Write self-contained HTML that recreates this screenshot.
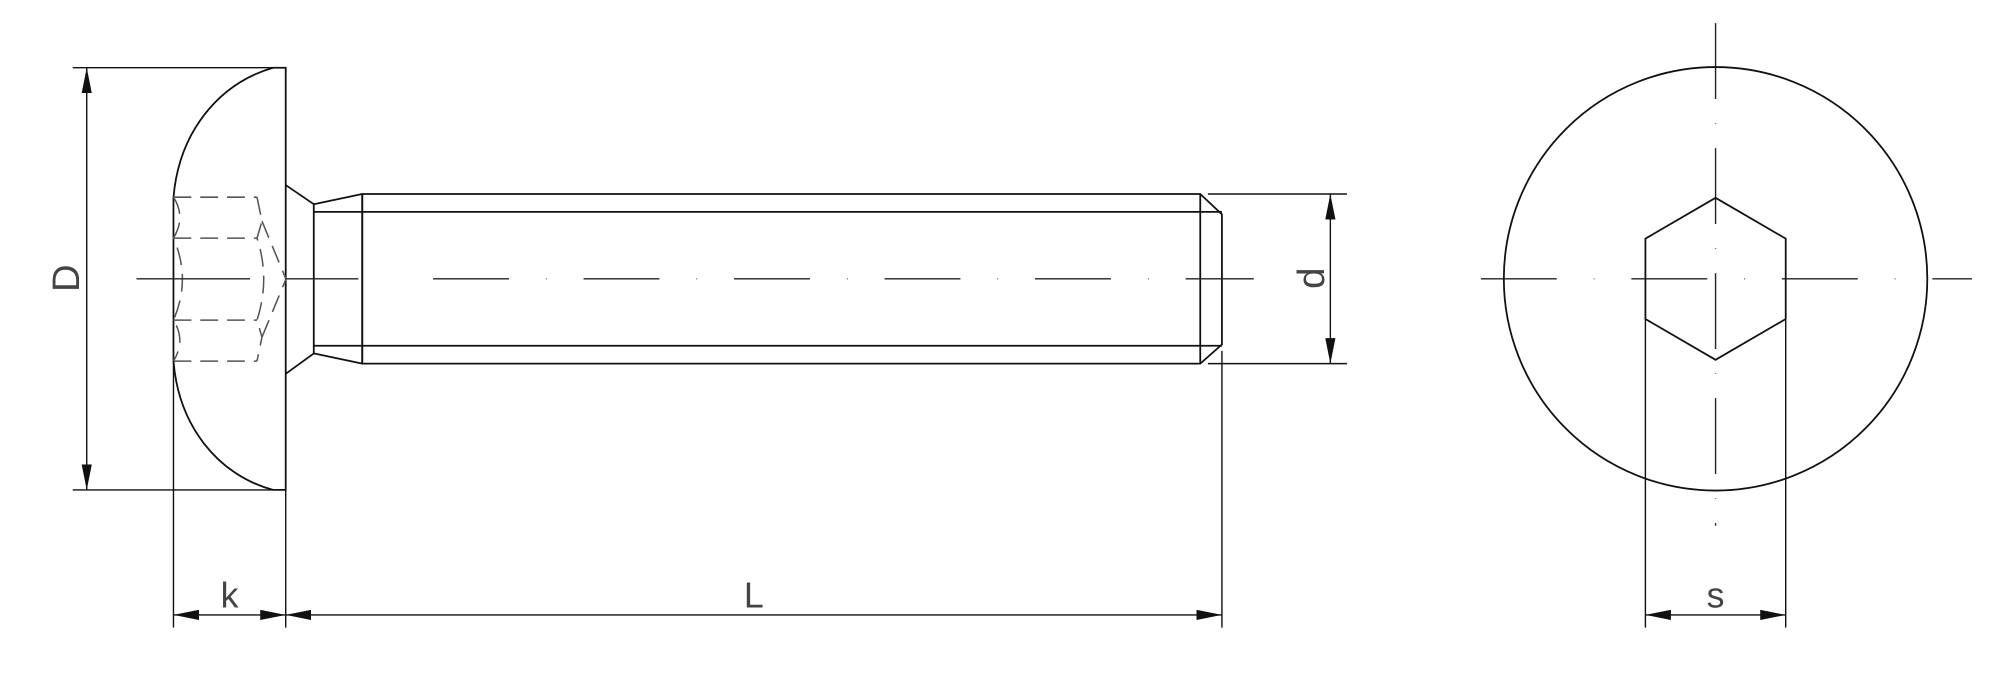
<!DOCTYPE html>
<html><head><meta charset="utf-8"><style>
html,body{margin:0;padding:0;background:#fff;}
svg{display:block;}
text{font-family:"Liberation Sans",sans-serif;fill:#444;}
</style></head><body>
<svg width="2000" height="689" viewBox="0 0 1568 540" xmlns="http://www.w3.org/2000/svg">
<defs>
<marker id="a" viewBox="0 0 20 8" refX="20" refY="4" markerWidth="20" markerHeight="8" markerUnits="userSpaceOnUse" orient="auto-start-reverse"><path d="M0,0 L20,4 L0,8 z" fill="#111"/></marker>
</defs>
<g stroke="#111" stroke-width="1.4" fill="none">
<!-- head -->
<path d="M224,53 L214,53 C170,66 140,105 136,155 L136,283 C140,333 170,372 214,384 L224,384 Z"/>
<!-- neck -->
<path d="M224,145 L246,160 L246,277 L224,293"/>
<path d="M246,160 L284,152 M246,166 L284,166 M246,277 L284,285 M246,271 L284,271"/>
<!-- shank -->
<path d="M284,152 L941,152 L958,168 L958,270 L941,285 L284,285 Z"/>
<path d="M284,152 L284,285 M941,152 L941,285 M284,166 L958,166 M284,271 L958,271"/>
</g>
<!-- hidden hex socket -->
<g stroke="#555" stroke-width="1.2" fill="none" stroke-dasharray="14,7">
<path d="M136,154.5 L201.5,154.5 M136,186.6 L201.5,186.6 M136,250.9 L201.5,250.9 M136,283 L201.5,283"/>
<path d="M201.5,154.5 L205.4,173.3 L201.5,186.6 Q212,218.7 201.5,250.9 L205.4,264.2 L201.5,283"/>
<path d="M205.4,173.3 L224.2,218.7 L205.4,264.2"/>
<path d="M136,154.5 Q146,170 136,186.6 Q150,218.7 136,250.9 Q146,267 136,283"/>
</g>
<!-- center lines -->
<g stroke="#222" stroke-width="1.1" fill="none">
<path d="M107,218.5 L196,218.5" />
<path d="M224,218.5 L281,218.5" />
<path d="M339.5,218.5 L983,218.5" stroke-dasharray="59.5,29,0.5,29"/>
<path d="M1141,218.5 L1546,218.5" stroke-dasharray="59.5,29,0.5,29" stroke-dashoffset="-20"/>
<path d="M1345,18 L1345,412" stroke-dasharray="59.5,19,0.5,19"/>
</g>
<!-- dimension lines -->
<g stroke="#111" stroke-width="1.1" fill="none">
<path d="M57,53 L214,53 M57,384 L214,384"/>
<path d="M68,53 L68,384" marker-start="url(#a)" marker-end="url(#a)"/>
<path d="M947,152 L1056,152 M947,285 L1056,285"/>
<path d="M1043,152 L1043,285" marker-start="url(#a)" marker-end="url(#a)"/>
<path d="M136,283 L136,492 M224,384 L224,492 M958,275 L958,492"/>
<path d="M136,482 L224,482" marker-start="url(#a)" marker-end="url(#a)"/>
<path d="M224,482 L958,482" marker-start="url(#a)" marker-end="url(#a)"/>
<path d="M1290,250 L1290,492 M1400,250 L1400,492"/>
<path d="M1290,482 L1400,482" marker-start="url(#a)" marker-end="url(#a)"/>
</g>
<!-- end view -->
<g stroke="#111" stroke-width="1.4" fill="none">
<circle cx="1345" cy="218.5" r="166"/>
<path d="M1345,155 L1400,187 L1400,250 L1345,282 L1290,250 L1290,187 Z"/>
</g>
<!-- labels -->
<text x="180" y="476" font-size="28" text-anchor="middle">k</text>
<text x="591" y="476" font-size="28" text-anchor="middle">L</text>
<text x="1345" y="476" font-size="28" text-anchor="middle">s</text>
<text transform="translate(62,218) rotate(-90)" font-size="30" text-anchor="middle">D</text>
<text transform="translate(1038,218) rotate(-90)" font-size="30" text-anchor="middle">d</text>
</svg>
</body></html>
